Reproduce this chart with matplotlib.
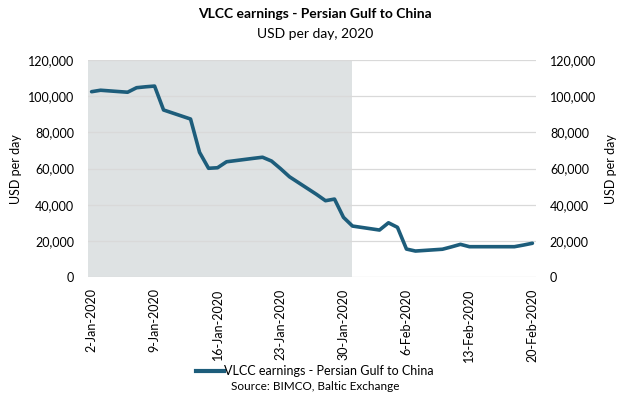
import matplotlib
matplotlib.use("Agg")
import matplotlib.pyplot as plt
import matplotlib.dates as mdates
from matplotlib.ticker import FuncFormatter, MultipleLocator
from matplotlib.lines import Line2D
import pandas as pd

plt.rcParams['font.family'] = ['Lato', 'DejaVu Sans']

dates = ["2020-01-02", "2020-01-03", "2020-01-06", "2020-01-07", "2020-01-08", "2020-01-09",
         "2020-01-10", "2020-01-13", "2020-01-14", "2020-01-15", "2020-01-16", "2020-01-17",
         "2020-01-20", "2020-01-21", "2020-01-22", "2020-01-23", "2020-01-24", "2020-01-27",
         "2020-01-28", "2020-01-29", "2020-01-30", "2020-01-31", "2020-02-03", "2020-02-04",
         "2020-02-05", "2020-02-06", "2020-02-07", "2020-02-10", "2020-02-11", "2020-02-12",
         "2020-02-13", "2020-02-14", "2020-02-17", "2020-02-18", "2020-02-19", "2020-02-20"]
earnings = [102500, 103300, 102200, 104700, 105200, 105600,
            92400, 87400, 69000, 60200, 60500, 63800,
            65700, 66300, 64200, 60000, 55500, 45800,
            42300, 43200, 33100, 28300, 26100, 30100,
            27600, 15600, 14500, 15500, 16800, 18200,
            16900, 16900, 16900, 16900, 17800, 18800]
tick_dates = ["2020-01-02", "2020-01-09", "2020-01-16", "2020-01-23", "2020-01-30",
              "2020-02-06", "2020-02-13", "2020-02-20"]
shade_end = "2020-01-31"
series_name = "VLCC earnings - Persian Gulf to China"
title = "VLCC earnings - Persian Gulf to China"
subtitle = "USD per day, 2020"
source = "Source: BIMCO, Baltic Exchange"

x = pd.to_datetime(dates)
ticks = pd.to_datetime(tick_dates)

fig = plt.figure(figsize=(6.3, 3.94), dpi=100)
ax = fig.add_axes([88/630, 1-277.3/394, (536-88)/630, (277.3-60)/394])

line_color = "#1d5d7b"
ax.axvspan(x[0] - pd.Timedelta(days=0.4), pd.Timestamp(shade_end), color="#dee2e3", zorder=0, lw=0)
ax.plot(x, earnings, color=line_color, lw=2.6, solid_capstyle='round', zorder=3)

ax.set_xlim(x[0] - pd.Timedelta(days=0.4), x[-1] + pd.Timedelta(days=0.4))
ax.set_ylim(0, 120000)
ax.yaxis.set_major_locator(MultipleLocator(20000))
fmt = FuncFormatter(lambda v, p: f"{int(v):,}")
ax.yaxis.set_major_formatter(fmt)
ax.grid(axis='y', color="#d9d9d9", lw=0.9, zorder=1)
ax.set_axisbelow(True)
for s in ax.spines.values():
    s.set_visible(False)

ax.set_xticks(ticks)
ax.xaxis.set_major_formatter(mdates.DateFormatter('%-d-%b-%Y'))
plt.setp(ax.get_xticklabels(), rotation=90, fontsize=9, color="#000000")
ax.tick_params(axis='x', length=0, pad=8)
ax.tick_params(axis='y', length=0, pad=10, labelsize=9)
ax.set_ylabel("USD per day", fontsize=9)
ax.yaxis.set_label_coords((22-88)/448, 0.5)

ax2 = ax.twinx()
ax2.set_ylim(0, 120000)
ax2.yaxis.set_major_locator(MultipleLocator(20000))
ax2.yaxis.set_major_formatter(fmt)
ax2.tick_params(axis='y', length=0, pad=10, labelsize=9)
for s in ax2.spines.values():
    s.set_visible(False)
ax2.set_ylabel("USD per day", fontsize=9, rotation=90)
ax2.yaxis.set_label_coords((605-88)/448, 0.5)

fig.text(315/630, 1-14/394, title, ha='center', va='center', fontsize=10, fontweight='bold')
fig.text(315/630, 1-34/394, subtitle, ha='center', va='center', fontsize=10)

handle = Line2D([0], [0], color=line_color, lw=3)
fig.legend([handle], [series_name], loc='center', bbox_to_anchor=(315/630, 1-371/394),
           frameon=False, fontsize=9, handlelength=2.2, handletextpad=0.0, borderpad=0)
fig.text(315/630, 1-386/394, source, ha='center', va='center', fontsize=8.5)

fig.savefig("out.png", dpi=100)
